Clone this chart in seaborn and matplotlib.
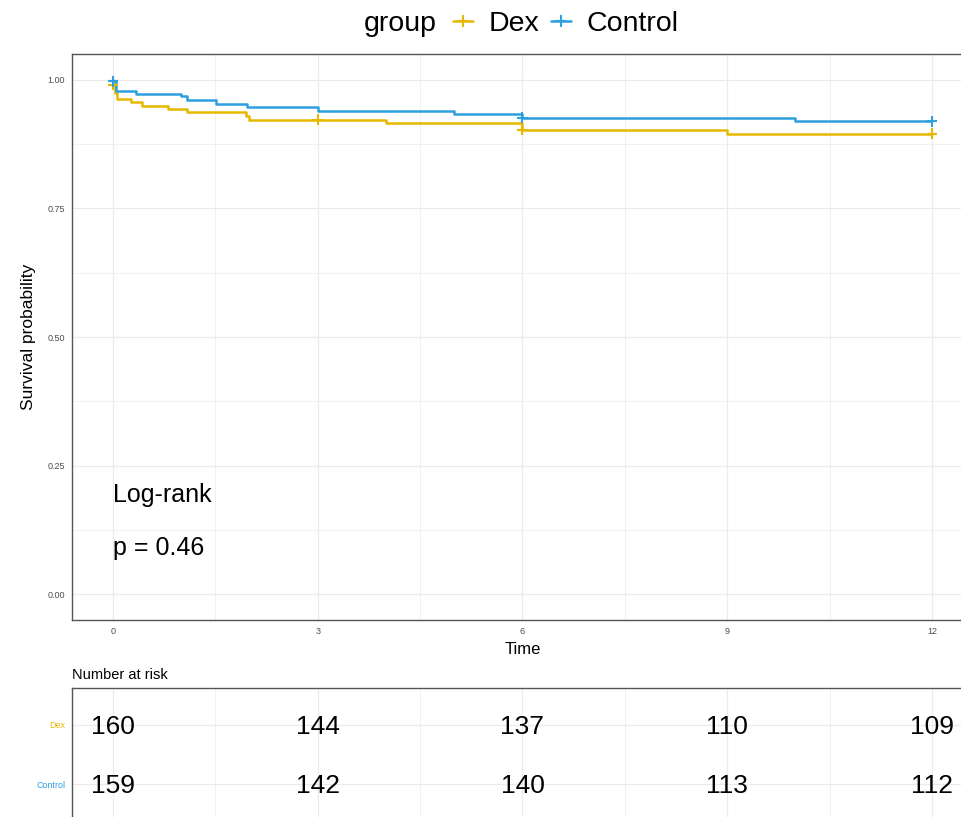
import pandas as pd
import numpy as np
import matplotlib
import matplotlib.pyplot as plt
from matplotlib.lines import Line2D
import seaborn as sns

sns.set_style("white")
matplotlib.rcParams["font.family"] = ["Liberation Sans", "DejaVu Sans"]
matplotlib.rcParams["text.color"] = "k"
matplotlib.rcParams["axes.labelcolor"] = "k"

# %% data
groups = ["Dex", "Control"]
colors = {"Dex": "#E7B800", "Control": "#2E9FDF"}

dex_time = [0, 0, 0.03, 0.06, 0.26, 0.43, 0.80, 1.08, 1.95, 2.0, 4.0, 6.0, 9.0, 12.0]
dex_surv = [1.0, 0.990, 0.975, 0.9625, 0.956, 0.9495, 0.943, 0.9366, 0.930, 0.922, 0.916, 0.903, 0.895, 0.895]
ctrl_time = [0, 0, 0.05, 0.34, 1.0, 1.08, 1.51, 1.97, 3.0, 5.0, 6.0, 10.0, 12.0]
ctrl_surv = [1.0, 0.997, 0.979, 0.973, 0.968, 0.960, 0.953, 0.947, 0.940, 0.934, 0.9265, 0.919, 0.919]

dex_cens_time = [0, 3, 6, 12]
dex_cens_surv = [0.990, 0.922, 0.903, 0.895]
ctrl_cens_time = [0, 6, 12]
ctrl_cens_surv = [0.997, 0.9265, 0.919]

risk_times = [0, 3, 6, 9, 12]
dex_risk = [160, 144, 137, 110, 109]
ctrl_risk = [159, 142, 140, 113, 112]

# %% frames
curves = pd.concat([
    pd.DataFrame({"time": dex_time, "surv": dex_surv, "group": "Dex"}),
    pd.DataFrame({"time": ctrl_time, "surv": ctrl_surv, "group": "Control"}),
])
cens = pd.concat([
    pd.DataFrame({"time": dex_cens_time, "surv": dex_cens_surv, "group": "Dex"}),
    pd.DataFrame({"time": ctrl_cens_time, "surv": ctrl_cens_surv, "group": "Control"}),
])

# %% figure
fig = plt.figure(figsize=(9.61, 8.17), dpi=100)
ax = fig.add_axes([0.0749, 0.2411, 0.9375, 0.6928])
ax2 = fig.add_axes([0.0749, -0.0049, 0.9375, 0.1628])

grid_col = "#EBEBEB"
for a in (ax, ax2):
    a.set_xlim(-0.6, 12.6)
    a.set_xticks(risk_times)
    a.set_xticks([1.5, 4.5, 7.5, 10.5], minor=True)
    a.grid(True, which="major", color=grid_col, lw=0.9)
    a.grid(True, which="minor", axis="x", color=grid_col, lw=0.5)
    a.set_axisbelow(True)
    for s in a.spines.values():
        s.set_color("#555555")
        s.set_linewidth(1.0)
    a.tick_params(axis="both", which="major", direction="out", length=3, width=0.7,
                  color="#555555", labelcolor="#4D4D4D", labelsize=6.5, pad=2)
    a.tick_params(which="minor", length=0)

sns.lineplot(data=curves, x="time", y="surv", hue="group", palette=colors,
             estimator=None, sort=False, drawstyle="steps-post", lw=1.8,
             legend=False, ax=ax)
sns.scatterplot(data=cens, x="time", y="surv", hue="group", palette=colors,
                marker="+", s=60, linewidth=1.5, legend=False, ax=ax, zorder=5)

ax.set_ylim(-0.05, 1.05)
ax.set_yticks([0, 0.25, 0.5, 0.75, 1.0])
ax.set_yticklabels(["0.00", "0.25", "0.50", "0.75", "1.00"])
ax.set_yticks([0.125, 0.375, 0.625, 0.875], minor=True)
ax.grid(True, which="minor", axis="y", color=grid_col, lw=0.5)
ax.set_xlabel("Time", fontsize=12, labelpad=4)
ax.set_ylabel("Survival probability", fontsize=12.5, labelpad=8)

ax.text(0, 0.193, "Log-rank", fontsize=18, va="center", ha="left")
ax.text(0, 0.09, "p = 0.46", fontsize=18, va="center", ha="left")

# %% legend
fig.text(364 / 961, 1 - 24 / 817, "group", fontsize=20.5, va="center", ha="left")
handles = [Line2D([0], [0], color=colors[g], lw=1.8, marker="+", ms=9, mew=1.5) for g in groups]
fig.legend(handles, groups, loc="center", bbox_to_anchor=(566 / 961, 1 - 24 / 817),
           ncol=2, frameon=False, fontsize=20.5, handlelength=0.7,
           handletextpad=0.55, columnspacing=0.4, borderpad=0, borderaxespad=0)

# %% risk table
ax2.set_ylim(0.373, 2.627)
ax2.set_yticks([2, 1])
ax2.set_yticklabels(groups)
for lab, g in zip(ax2.get_yticklabels(), groups):
    lab.set_color(colors[g])
ax2.tick_params(axis="x", labelbottom=False, length=0)
for t, d, c in zip(risk_times, dex_risk, ctrl_risk):
    ax2.text(t, 1.97, str(d), fontsize=19, ha="center", va="center")
    ax2.text(t, 0.97, str(c), fontsize=19, ha="center", va="center")
ax2.set_xlabel("")
ax2.set_ylabel("")
fig.text(72 / 961, 1 - 675 / 817, "Number at risk", fontsize=10.5, va="center", ha="left")

fig.savefig("out.png", dpi=100)
